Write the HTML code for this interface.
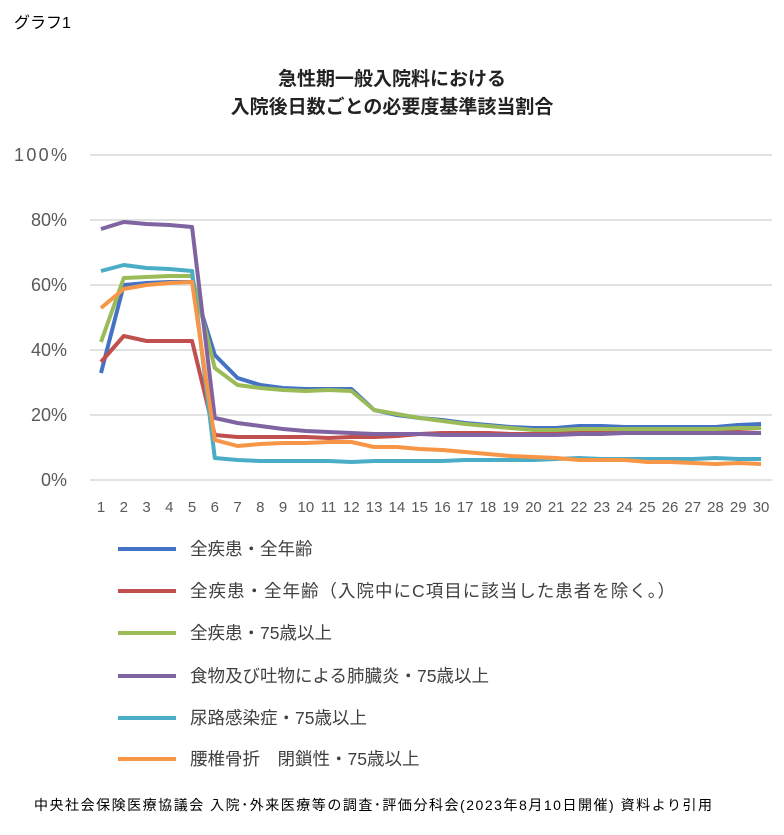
<!DOCTYPE html>
<html><head><meta charset="utf-8"><style>
body{margin:0;background:#fff;width:784px;height:830px;overflow:hidden;font-family:"Liberation Sans","Noto Sans CJK JP",sans-serif;}
</style></head><body>
<svg width="784" height="830" xmlns="http://www.w3.org/2000/svg" font-family="Liberation Sans, Noto Sans CJK JP, sans-serif">
<text x="14" y="28" font-size="16" fill="#000">グラフ1</text>
<text x="392" y="85" font-size="19" font-weight="bold" text-anchor="middle" fill="#222">急性期一般入院料における</text>
<text x="392" y="113" font-size="19" font-weight="bold" text-anchor="middle" fill="#222">入院後日数ごとの必要度基準該当割合</text>
<g stroke="#d9d9d9" stroke-width="1.5">
<line x1="90" x2="772" y1="155" y2="155"/><line x1="90" x2="772" y1="220" y2="220"/><line x1="90" x2="772" y1="285" y2="285"/><line x1="90" x2="772" y1="350" y2="350"/><line x1="90" x2="772" y1="415" y2="415"/><line x1="90" x2="772" y1="480" y2="480"/>
</g>
<g font-size="18" fill="#595959" text-anchor="end" textLength="53">
<text x="67" y="161" textLength="53">100%</text><text x="67" y="226">80%</text><text x="67" y="291">60%</text><text x="67" y="356">40%</text><text x="67" y="421">20%</text><text x="67" y="486">0%</text>
</g>
<g id="xl" font-size="15" fill="#595959" text-anchor="middle"></g>
<g id="ln" fill="none" stroke-width="4" stroke-linejoin="round"></g>
<g stroke-width="4">
<line x1="118" x2="176" y1="549" y2="549" stroke="#4472c4"/>
<line x1="118" x2="176" y1="591" y2="591" stroke="#c0504d"/>
<line x1="118" x2="176" y1="633" y2="633" stroke="#9bbb59"/>
<line x1="118" x2="176" y1="676" y2="676" stroke="#8064a2"/>
<line x1="118" x2="176" y1="718" y2="718" stroke="#4bacc6"/>
<line x1="118" x2="176" y1="759" y2="759" stroke="#f79646"/>
</g>
<g font-size="17.5" fill="#404040">
<text x="190" y="555">全疾患・全年齢</text>
<text x="190" y="597" textLength="485">全疾患・全年齢（入院中にC項目に該当した患者を除く。）</text>
<text x="190" y="639">全疾患・75歳以上</text>
<text x="190" y="682">食物及び吐物による肺臓炎・75歳以上</text>
<text x="190" y="724">尿路感染症・75歳以上</text>
<text x="190" y="765">腰椎骨折　閉鎖性・75歳以上</text>
</g>
<text x="34" y="810" font-size="14" fill="#000" textLength="678">中央社会保険医療協議会 入院･外来医療等の調査･評価分科会(2023年8月10日開催) 資料より引用</text>
</svg>
<script>
var d={
"#8064a2":[229,222,224,225,227,418,423,426,429,431,432,433,434,434,434,435,435,435,435,435,435,434,434,433,433,433,433,433,433,433],
"#4bacc6":[271,265,268,269,271,458,460,461,461,461,461,462,461,461,461,461,460,460,460,460,459,458,459,459,459,459,459,458,459,459],
"#f79646":[308,289,285,283,282,440,446,444,443,443,442,442,447,447,449,450,452,454,456,457,458,460,460,460,462,462,463,464,463,464],
"#c0504d":[362,336,341,341,341,435,437,437,437,437,438,437,437,436,434,433,433,433,434,434,433,432,432,431,431,431,432,431,429,428],
"#9bbb59":[342,278,277,276,276,368,385,388,390,391,390,391,410,414,418,421,424,426,428,430,430,429,429,429,429,429,429,429,428,428],
"#4472c4":[373,285,283,282,282,355,378,385,388,389,389,389,410,415,418,420,423,425,427,428,428,426,426,427,427,427,427,427,425,424]};
var ln=document.getElementById('ln'),xl=document.getElementById('xl'),ns="http://www.w3.org/2000/svg";
function X(i){return 101+i*22.76;}
for(var c of ["#4472c4","#c0504d","#9bbb59","#8064a2","#4bacc6","#f79646"]){var p=document.createElementNS(ns,'polyline');p.setAttribute('points',d[c].map((y,i)=>X(i)+','+y).join(' '));p.setAttribute('stroke',c);ln.appendChild(p);}
for(var i=0;i<30;i++){var t=document.createElementNS(ns,'text');t.setAttribute('x',X(i));t.setAttribute('y',512);t.textContent=i+1;xl.appendChild(t);}
</script>
</body></html>
